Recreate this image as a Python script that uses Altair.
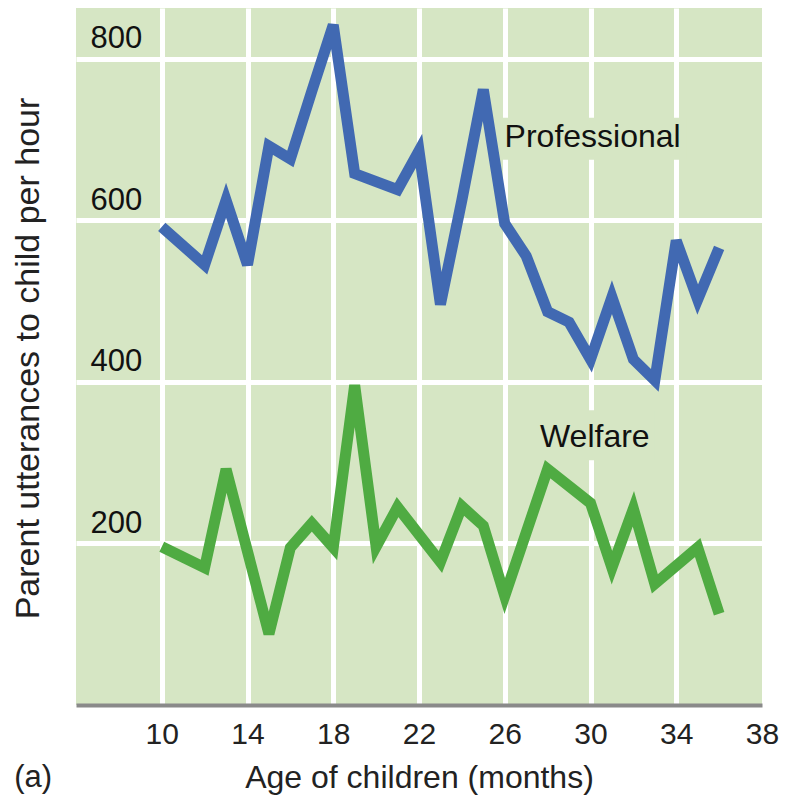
import altair as alt
import pandas as pd

# ---- data ----
prof_months = [10, 12, 13, 14, 15, 16, 17, 18, 19, 20, 21, 22, 23, 24, 25, 26, 27, 28, 29, 30, 31, 32, 33, 34, 35, 36]
prof_values = [592, 545, 625, 545, 692, 676, 760, 842, 658, 648, 638, 686, 496, 625, 762, 596, 556, 487, 474, 428, 505, 428, 402, 575, 502, 566]

welf_months = [10, 12, 13, 15, 16, 17, 18, 19, 20, 21, 23, 24, 25, 26, 28, 30, 31, 32, 33, 35, 36]
welf_values = [196, 170, 292, 88, 195, 225, 195, 396, 196, 245, 177, 246, 222, 135, 292, 250, 170, 243, 150, 195, 113]

series_names = ["Professional", "Welfare"]
series_colors = ["#4169b2", "#4fab42"]

x_ticks = [10, 14, 18, 22, 26, 30, 34, 38]
y_ticks = [200, 400, 600, 800]
x_domain = [6, 38]
y_domain = [0, 863]

# series labels (data units) and their background boxes
label_text = ["Professional", "Welfare"]
label_x = [30.1, 30.2]
label_y = [703, 332]
box_x = [25.8, 27.4]
box_x2 = [34.5, 33.0]
box_y = [675, 303]
box_y2 = [727, 365]

panel_text = ["(a)"]
panel_x = [4.0]
panel_y = [-101]

x_title = "Age of children (months)"
y_title = "Parent utterances to child per hour"

# ---- build tables ----
lines_df = pd.DataFrame({
    "month": prof_months + welf_months,
    "value": prof_values + welf_values,
    "series": [series_names[0]] * len(prof_months) + [series_names[1]] * len(welf_months),
})
labels_df = pd.DataFrame({"month": label_x, "value": label_y, "text": label_text})
boxes_df = pd.DataFrame({"month": box_x, "month2": box_x2, "value": box_y, "value2": box_y2})
panel_df = pd.DataFrame({"month": panel_x, "value": panel_y, "text": panel_text})

FONT = "Liberation Sans"
BG = "#d6e6c4"

x_axis = alt.Axis(
    values=x_ticks, grid=True, gridColor="white", gridWidth=5,
    gridOpacity={"expr": "datum.value == 38 ? 0 : 1"},
    domain=True, domainColor="#8a8a8a", domainWidth=4,
    ticks=False, tickSize=0,
    labelFont=FONT, labelFontSize=30, labelColor="#222222", labelPadding=14,
    labelFlush=False, labelOverlap=False, labelBound=False,
    title=x_title, titleFont=FONT, titleFontSize=32, titleFontWeight="normal",
    titleColor="#222222", titleY=82, titleBaseline="alphabetic",
)
y_axis = alt.Axis(
    values=y_ticks, grid=True, gridColor="white", gridWidth=5,
    domain=False, ticks=False, tickSize=0,
    labelFont=FONT, labelFontSize=31, labelColor="#111111",
    labelAlign="left", labelBaseline="alphabetic", labelPadding=-14, labelOffset=-11,
    labelFlush=False, labelOverlap=False, labelBound=False,
    title=y_title, titleFont=FONT, titleFontSize=34, titleFontWeight="normal",
    titleColor="#222222", titleX=-48, titleY=350, titleAngle=270,
    titleAlign="center", titleBaseline="middle",
)

x_enc = alt.X("month:Q", scale=alt.Scale(domain=x_domain, nice=False, zero=False), axis=x_axis)
y_enc = alt.Y("value:Q", scale=alt.Scale(domain=y_domain, nice=False), axis=y_axis)

lines = alt.Chart(lines_df).mark_line(strokeWidth=11, strokeJoin="miter").encode(
    x=x_enc, y=y_enc,
    color=alt.Color("series:N", scale=alt.Scale(domain=series_names, range=series_colors), legend=None),
    detail="series:N",
)

boxes = alt.Chart(boxes_df).mark_rect(fill=BG).encode(
    x=x_enc, x2="month2:Q", y=y_enc, y2="value2:Q",
)

labels = alt.Chart(labels_df).mark_text(
    font=FONT, fontSize=32, color="#111111", align="center", baseline="middle"
).encode(x=x_enc, y=y_enc, text="text:N")

panel = alt.Chart(panel_df).mark_text(
    font=FONT, fontSize=31, color="#222222", align="center", baseline="alphabetic"
).encode(x=x_enc, y=y_enc, text="text:N")

chart = alt.layer(boxes, lines, labels, panel).properties(
    width=686, height=697,
    autosize=alt.AutoSizeParams(type="none"),
    padding={"left": 68, "top": 0, "right": 17, "bottom": 90},
    background="white",
).configure_view(fill=BG, stroke=None)

chart.save("out.html", embed_options={"renderer": "svg", "actions": False})
